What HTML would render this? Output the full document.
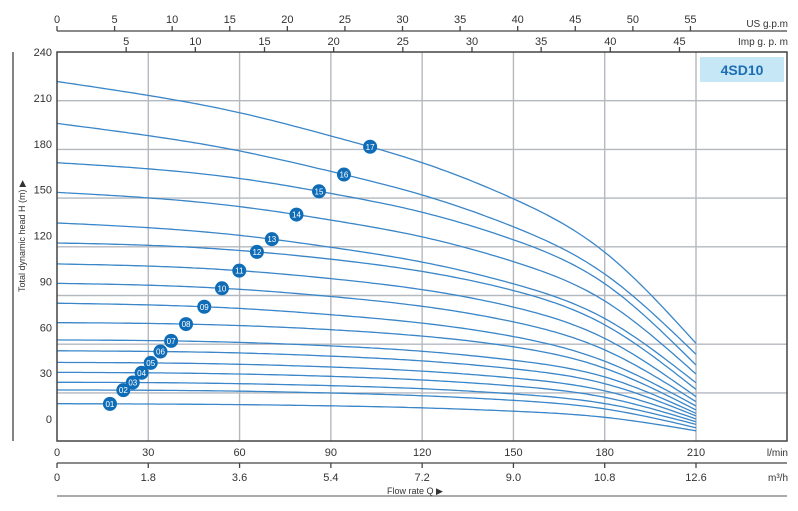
<!DOCTYPE html>
<html><head><meta charset="utf-8"><style>
html,body{margin:0;padding:0;background:#fff;}
svg{display:block;font-family:"Liberation Sans",Arial,sans-serif;}
</style></head><body>
<svg id="chart" width="798" height="511" viewBox="0 0 798 511" xmlns="http://www.w3.org/2000/svg">
<g id="grid"></g>
<g id="curves"></g>
<g id="markers"></g>
<g id="axes"></g>
<rect x="700" y="57" width="84" height="25" fill="#c6e7f5"/>
<text x="742" y="75" text-anchor="middle" font-size="14" font-weight="bold" fill="#1c6db3">4SD10</text>
<text transform="translate(25,236) rotate(-90)" text-anchor="middle" font-size="9" fill="#333">Total dynamic head H (m) ▶</text>
<line x1="13" y1="52" x2="13" y2="441" stroke="#333" stroke-width="1.2"/>
<text x="415" y="494" text-anchor="middle" font-size="9" fill="#333">Flow rate Q ▶</text>
</svg>
<script>
const flowLmin=[0,30,60,90,120,150,180,210];
const curveLabels=["01","02","03","04","05","06","07","08","09","10","11","12","13","14","15","16","17"];
const c01=[10,9.8,9.4,8.6,7.3,5.1,1.1,-7.7];
const c02=[19,18.8,18.2,17.0,15.2,12.2,6.6,-5.7];
const c03=[24,23.8,23.1,21.8,19.8,16.4,10.1,-3.5];
const c04=[30.5,30.2,29.4,27.9,25.5,21.6,14.2,-1.8];
const c05=[37,36.7,35.8,34.0,31.3,26.8,18.4,0];
const c06=[44.6,44.2,43.2,41.1,38.0,32.8,23.1,2];
const c07=[51.7,51.3,50.1,47.8,44.3,38.4,27.5,3.7];
const c08=[63,62.5,61.1,58.4,54.2,47.2,33.2,5.9];
const c09=[75.7,74.6,72.3,68.2,62.7,53.9,37.8,8.5];
const c10=[88.7,87.5,84.8,80.1,73.7,63.5,45.2,11.3];
const c11=[101.4,100.0,97.0,91.8,84.6,73.2,52.7,14.6];
const c12=[115.1,113.6,110.2,104.5,96.5,84.0,61.6,19.4];
const c13=[128.2,125.1,120.1,112.3,102.6,88.4,65.7,23.7];
const c14=[148.2,144.6,138.9,130.1,119.1,102.9,77.2,29.4];
const c15=[167.6,163.6,157.3,147.5,135.2,117.2,88.5,35.3];
const c16=[193.3,185.3,175.3,161.9,146.5,125.7,94.8,42.3];
const c17=[220.7,211.6,200.3,185.1,167.6,144.0,109.1,49.5];
const markerFlow=[17.4,21.8,24.9,27.8,30.8,34.0,37.5,42.4,48.4,54.2,59.9,65.7,70.6,78.7,86.1,94.3,102.9];
const yTicks=[0,30,60,90,120,150,180,210,240];
const lminTicks=[0,30,60,90,120,150,180,210];
const m3hTicks=["0","1.8","3.6","5.4","7.2","9.0","10.8","12.6"];
const usTicks=[0,5,10,15,20,25,30,35,40,45,50,55];
const impTicks=[5,10,15,20,25,30,35,40,45];

const series=[c01,c02,c03,c04,c05,c06,c07,c08,c09,c10,c11,c12,c13,c14,c15,c16,c17];
const NS="http://www.w3.org/2000/svg";
const X0=57,X1=787,YT=52,YB=441;
function xs(q){return X0+q*(696-57)/210;}
function ys(h){return 419-h*(419-52)/240;}
function mk(tag,attrs,parent){const e=document.createElementNS(NS,tag);for(const k in attrs)e.setAttribute(k,attrs[k]);parent.appendChild(e);return e;}
const grid=document.getElementById('grid'),curves=document.getElementById('curves'),markers=document.getElementById('markers'),axes=document.getElementById('axes');

for(let i=1;i<lminTicks.length;i++){
 const l=mk('line',{x1:xs(lminTicks[i]),x2:xs(lminTicks[i]),y1:YT,y2:YB,stroke:'#b4b9c0','stroke-width':1.4},grid);
 
 
}
for(let k=1;k<=7;k++){
 const y=YT+k*48.7;
 const l=mk('line',{x1:X0,x2:X1,y1:y,y2:y,stroke:'#b4b9c0','stroke-width':1.4},grid);
 
 
}
// natural cubic spline
function spline(xv,yv){
 const n=xv.length,h=[],al=[],l=[1],mu=[0],z=[0],c=new Array(n).fill(0),b=[],d=[];
 for(let i=0;i<n-1;i++)h.push(xv[i+1]-xv[i]);
 for(let i=1;i<n-1;i++)al[i]=3/h[i]*(yv[i+1]-yv[i])-3/h[i-1]*(yv[i]-yv[i-1]);
 for(let i=1;i<n-1;i++){l[i]=2*(xv[i+1]-xv[i-1])-h[i-1]*mu[i-1];mu[i]=h[i]/l[i];z[i]=(al[i]-h[i-1]*z[i-1])/l[i];}
 for(let j=n-2;j>=0;j--){c[j]=(j<n-1&&j>0?z[j]:0)-mu[j]*c[j+1];if(j===0)c[0]=0;
  b[j]=(yv[j+1]-yv[j])/h[j]-h[j]*(c[j+1]+2*c[j])/3;d[j]=(c[j+1]-c[j])/(3*h[j]);}
 return function(x){let i=Math.min(Math.max(0,Math.floor((x-xv[0])/h[0])),n-2);const t=x-xv[i];return yv[i]+b[i]*t+c[i]*t*t+d[i]*t*t*t;};
}
series.forEach((s,si)=>{
 const f=spline(flowLmin,s);
 let d='';
 for(let q=0;q<=210;q+=1.5){d+=(q?'L':'M')+xs(q).toFixed(1)+','+ys(f(q)).toFixed(1);}
 d+='L'+xs(210).toFixed(1)+','+ys(s[s.length-1]).toFixed(1);
 const p=mk('path',{d:d,fill:'none',stroke:'#3a86c8','stroke-width':1.3},curves);
 
 
 const q=markerFlow[si],cx=xs(q),cy=ys(f(q));
 const g=mk('g',{},markers);
 
 
 mk('circle',{cx:cx,cy:cy,r:7,fill:'#0f6db8'},g);
 const t=mk('text',{x:cx,y:cy+3,'text-anchor':'middle','font-size':8,fill:'#fff'},g);
 t.textContent=curveLabels[si];
});
const fr=mk('rect',{x:X0,y:YT,width:X1-X0,height:YB-YT,fill:'none',stroke:'#444','stroke-width':1.5},axes);


yTicks.forEach(v=>{
 const t=mk('text',{x:52,y:ys(v)+4,'text-anchor':'end','font-size':11,fill:'#333'},axes);
 
 
 t.textContent=v;
});
lminTicks.forEach(v=>{
 const t=mk('text',{x:xs(v),y:456,'text-anchor':'middle','font-size':11,fill:'#333'},axes);
 
 
 t.textContent=v;
});
const u1=mk('text',{x:788,y:456,'text-anchor':'end','font-size':10,fill:'#333'},axes);u1.textContent='l/min';


const bl=mk('line',{x1:X0,x2:X1,y1:463,y2:463,stroke:'#444','stroke-width':1.3},axes);


m3hTicks.forEach((v,i)=>{
 const x=xs(lminTicks[i]);
 const tk=mk('line',{x1:x,x2:x,y1:463,y2:468,stroke:'#444','stroke-width':1.3},axes);
 
 
 const t=mk('text',{x:x,y:481,'text-anchor':'middle','font-size':11,fill:'#333'},axes);
 
 
 t.textContent=v;
});
const u2=mk('text',{x:788,y:481,'text-anchor':'end','font-size':10,fill:'#333'},axes);u2.textContent='m³/h';


const bl2=mk('line',{x1:X0,x2:X1,y1:496,y2:496,stroke:'#777','stroke-width':1.3},axes);


const tl=mk('line',{x1:X0,x2:X1,y1:31,y2:31,stroke:'#444','stroke-width':1.3},axes);


usTicks.forEach(v=>{
 const x=xs(v*3.785);
 const tk=mk('line',{x1:x,x2:x,y1:26,y2:31,stroke:'#444','stroke-width':1.3},axes);
 
 
 const t=mk('text',{x:x,y:23,'text-anchor':'middle','font-size':11,fill:'#333'},axes);
 
 
 t.textContent=v;
});
const u3=mk('text',{x:788,y:27,'text-anchor':'end','font-size':10,fill:'#333'},axes);u3.textContent='US g.p.m';


impTicks.forEach(v=>{
 const x=xs(v*4.546);
 const tk=mk('line',{x1:x,x2:x,y1:47,y2:52,stroke:'#444','stroke-width':1.3},axes);
 
 
 const t=mk('text',{x:x,y:45,'text-anchor':'middle','font-size':11,fill:'#333'},axes);
 
 
 t.textContent=v;
});
const u4=mk('text',{x:788,y:45,'text-anchor':'end','font-size':10,fill:'#333'},axes);u4.textContent='Imp g. p. m';


</script>
</body></html>
